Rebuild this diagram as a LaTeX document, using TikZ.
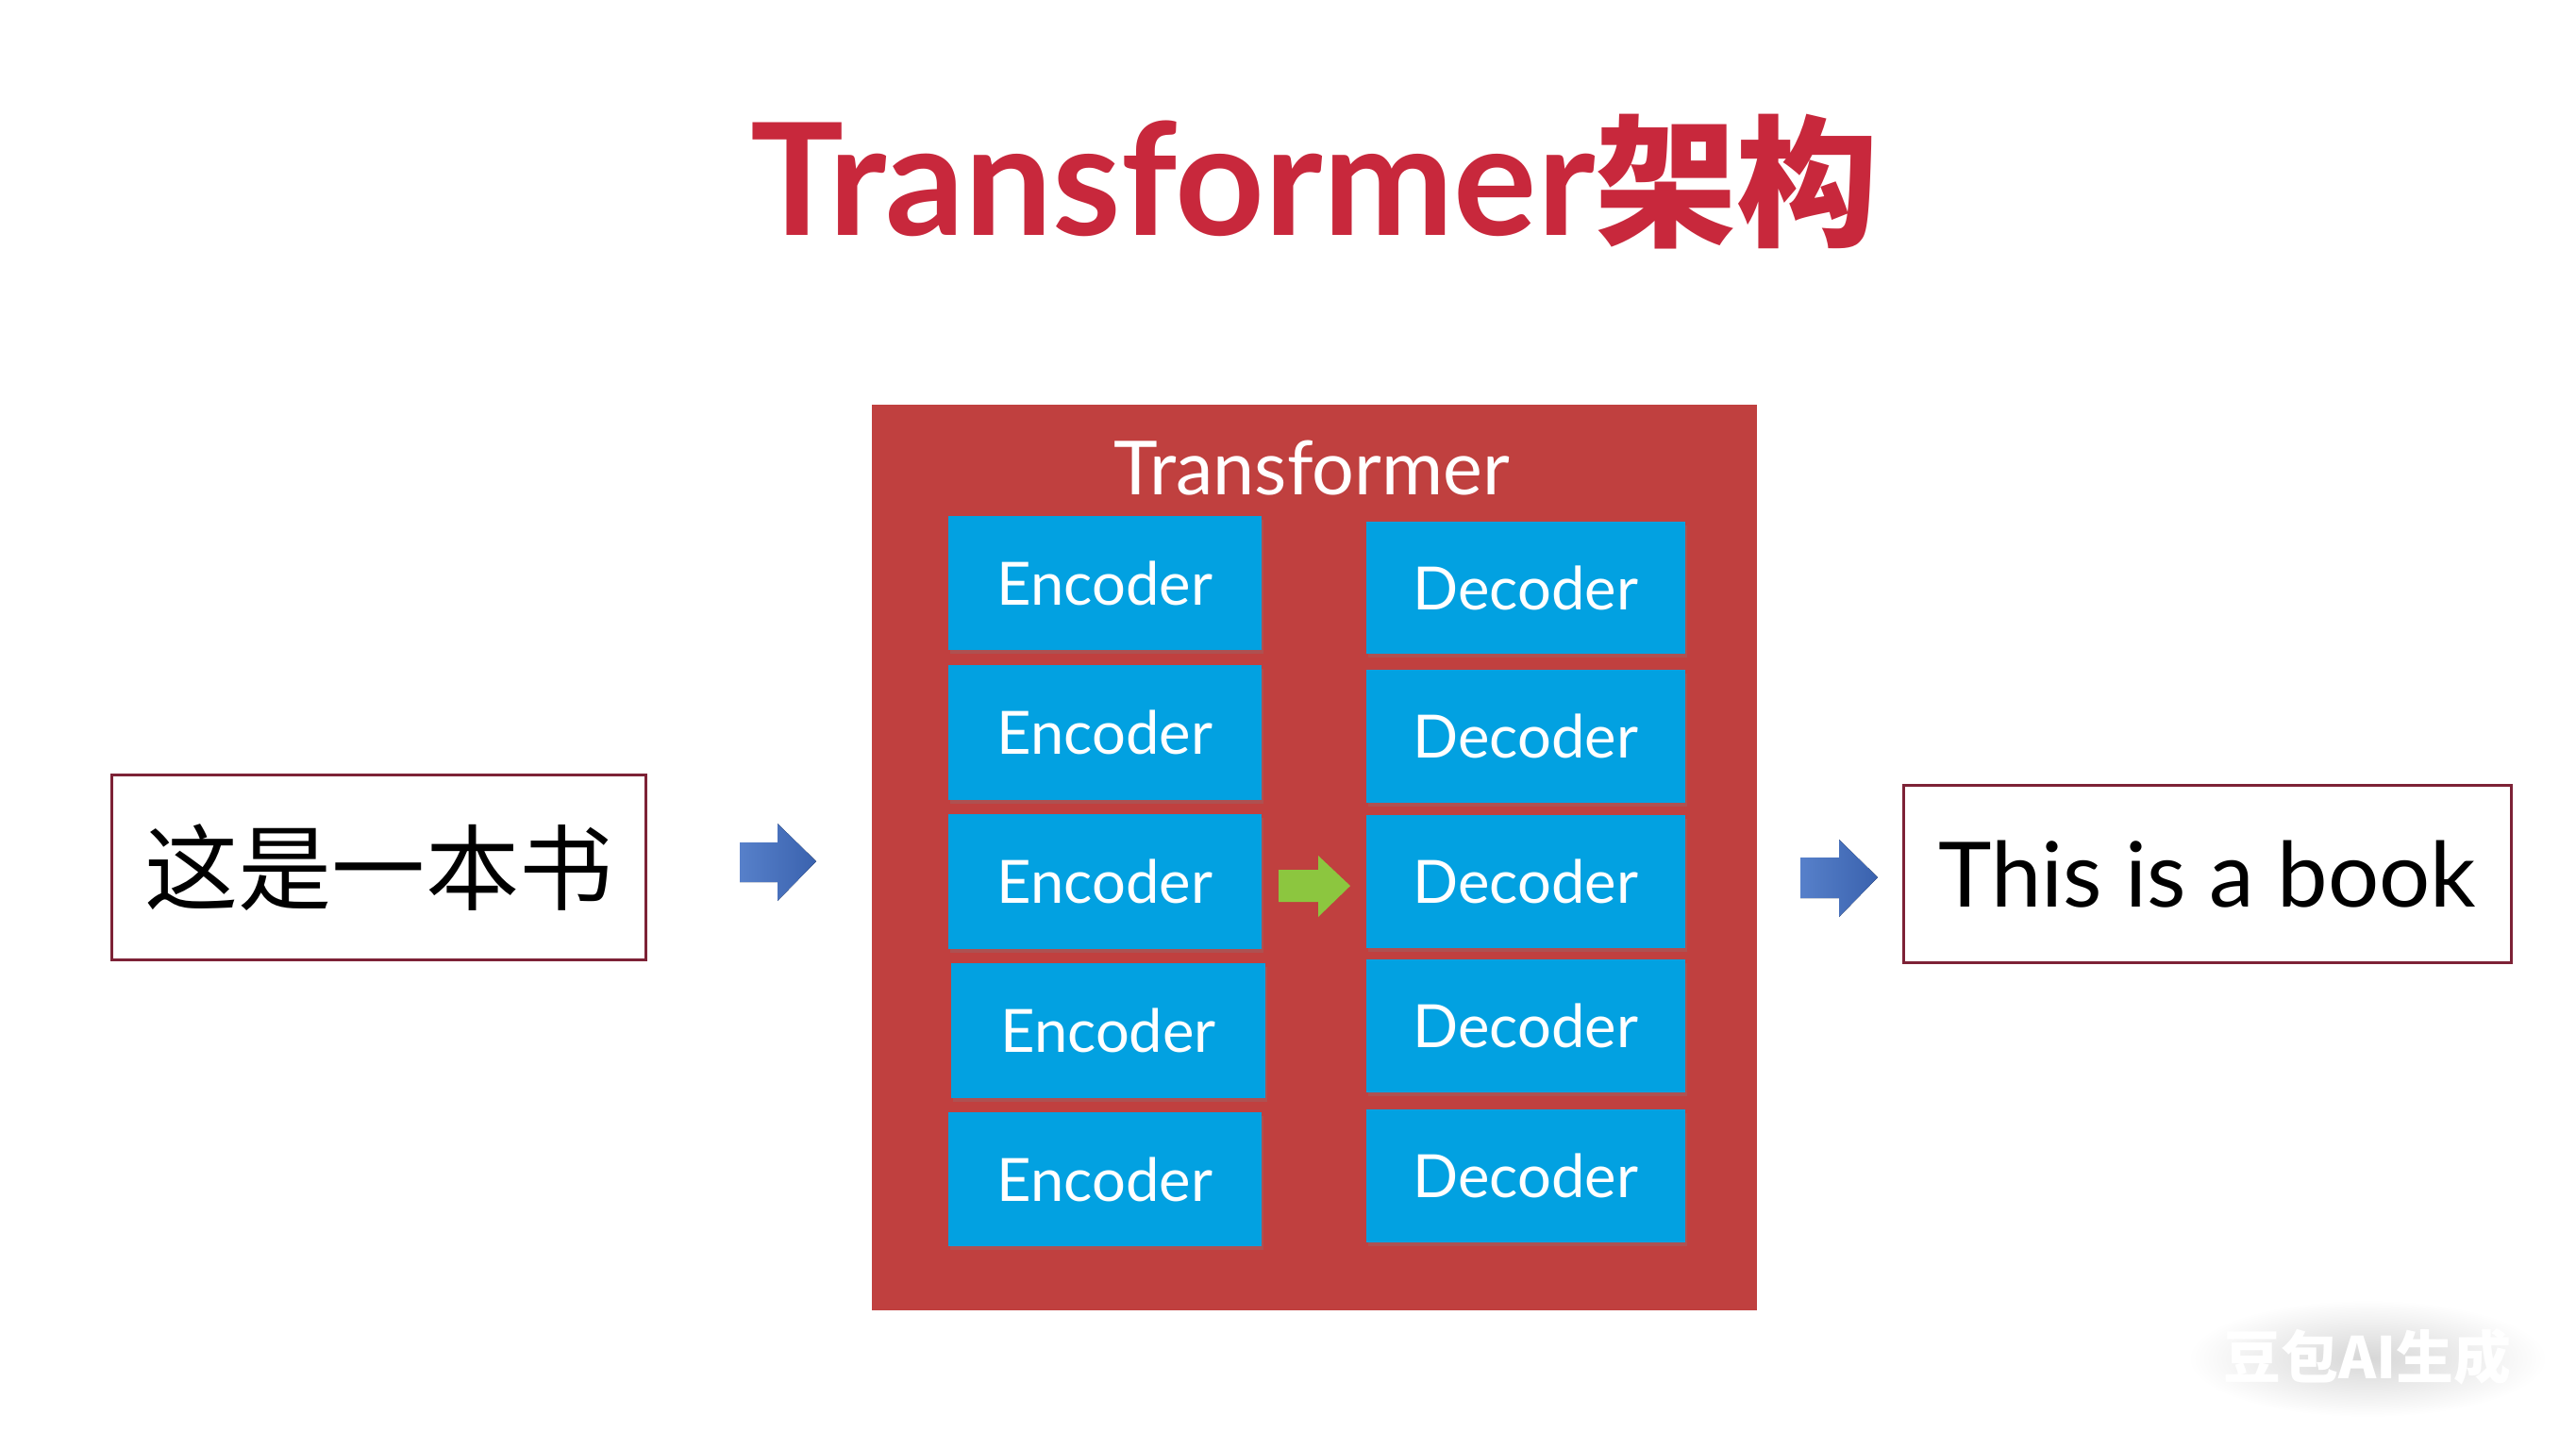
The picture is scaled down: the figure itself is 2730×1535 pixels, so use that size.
\documentclass[tikz,border=0pt]{standalone}
\usepackage{fontspec}
\setmainfont{Lato}
\newfontfamily\cjk{Noto Sans CJK SC}
\usetikzlibrary{shadows}
\definecolor{titlered}{HTML}{C8283C}
\definecolor{boxred}{HTML}{C0403F}
\definecolor{cellblue}{HTML}{02A1E1}
\definecolor{arrblue}{HTML}{4472C4}
\definecolor{arrbluedark}{HTML}{3A62AE}
\definecolor{arrgreen}{HTML}{8CC63F}
\definecolor{framered}{HTML}{7D2236}
\begin{document}
\begin{tikzpicture}[x=0.01cm,y=-0.01cm,
  cell/.style={fill=cellblue, text=white, inner sep=0pt,
    minimum width=3.32cm, minimum height=1.42cm,
    font=\fontsize{18}{18}\selectfont,
    drop shadow={opacity=0.28, shadow xshift=0.02cm, shadow yshift=-0.04cm}},
  deccell/.style={cell, minimum width=3.38cm, minimum height=1.40cm},
  textbox/.style={draw=framered, line width=0.03cm, fill=white, inner sep=0pt},
  bluearr/.style={left color=arrblue!90!white, right color=arrbluedark},
  greenarr/.style={fill=arrgreen}
]
\useasboundingbox (0,0) rectangle (2730,1535);
\fill[white] (0,0) rectangle (2730,1535);

% title
\node[anchor=base, text=titlered, inner sep=0pt] (title) at (1393,249)
  {\fontsize{47}{47}\selectfont\bfseries Transformer{\cjk\fontsize{42.7}{43}\selectfont\bfseries 架构}};

% transformer container
\node[fill=boxred, inner sep=0pt, minimum width=9.38cm, minimum height=9.60cm] (tf) at (1393,909) {};
\node[anchor=base, text=white, inner sep=0pt] (tflabel) at (1390,524)
  {\fontsize{22.5}{23}\selectfont Transformer};

% encoders
\node[cell] (e1) at (1171,618) {Encoder};
\node[cell] (e2) at (1171,776.5) {Encoder};
\node[cell] (e3) at (1171,934.5) {Encoder};
\node[cell] (e4) at (1174.5,1092.5) {Encoder};
\node[cell] (e5) at (1171,1250) {Encoder};

% decoders
\node[deccell] (d1) at (1617,623) {Decoder};
\node[deccell] (d2) at (1617,780.5) {Decoder};
\node[deccell] (d3) at (1617,934.5) {Decoder};
\node[deccell] (d4) at (1617,1087.5) {Decoder};
\node[deccell] (d5) at (1617,1246.5) {Decoder};

% input / output boxes
\node[textbox, minimum width=5.65cm, minimum height=1.95cm] (src) at (401.5,919.5)
  {\cjk\fontsize{28.2}{29}\selectfont 这是一本书};
\node[textbox, minimum width=6.43cm, minimum height=1.87cm] (tgt) at (2339.5,926.5)
  {\fontsize{27.2}{28}\selectfont This is a book};

% block arrows
\fill[bluearr] (784,893) -- (824,893) -- (824,873) -- (865,913) -- (824,955) -- (824,935) -- (784,935) -- cycle;
\fill[greenarr] (1355,922) -- (1397,922) -- (1397,907) -- (1431,939) -- (1397,972) -- (1397,956) -- (1355,956) -- cycle;
\fill[bluearr] (1908,909) -- (1949,909) -- (1949,890) -- (1990,930) -- (1949,972) -- (1949,952) -- (1908,952) -- cycle;

% watermark
\shade[inner color=black!16, outer color=white] (2509,1440) ellipse [x radius=190, y radius=62];
\node[text=white, inner sep=0pt] (wm) at (2509,1438)
  {\cjk\fontsize{17.3}{17}\selectfont\bfseries 豆包AI生成};
\end{tikzpicture}
\end{document}
